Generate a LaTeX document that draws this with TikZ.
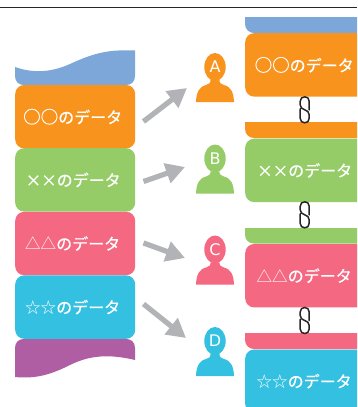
\documentclass[tikz,border=0pt]{standalone}
\usepackage{fontspec}
\setmainfont{Noto Sans CJK JP}
\newfontfamily\medfont[FakeBold=0.6]{Noto Sans CJK JP}
\newfontfamily\letterfont{DejaVu Sans}
\usetikzlibrary{arrows.meta}
\definecolor{cblue}{RGB}{126,167,217}
\definecolor{corange}{RGB}{248,148,29}
\definecolor{cgreen}{RGB}{150,204,104}
\definecolor{cpink}{RGB}{244,104,130}
\definecolor{ccyan}{RGB}{52,192,224}
\definecolor{cpurple}{RGB}{176,94,164}
\definecolor{carrow}{RGB}{177,179,182}
% #1 symbols (with their font), #2 shift
\newcommand{\blocktext}[2]{\raisebox{-1.5pt}{\hspace*{#2}#1{\medfont\fontsize{16}{16}\selectfont のデータ}}}
\newcommand{\symcircle}{{\medfont\fontsize{17.5}{18}\selectfont ○○}}
\newcommand{\symcross}{{\medfont\fontsize{15.5}{16}\selectfont ××}}
\newcommand{\symtri}{{\fontsize{15.5}{16}\selectfont △△}}
\newcommand{\symstar}{{\fontsize{15.5}{16}\selectfont ☆☆}}
\tikzset{
 x=1pt,y=-1pt,
 datablock/.style={fill=#1,rounded corners=9pt,draw=none,minimum width=120pt,minimum height=63.4pt,inner sep=0pt,text=white,anchor=north west},
 moveto/.style={draw=carrow,line width=5.2pt,-{Triangle[length=19pt,width=20pt,fill=carrow]}},
 clip link/.style={draw=black!85,line width=1.5pt,line cap=round},
 pname/.style={text=white,font=\letterfont\fontsize{16}{16}\selectfont,inner sep=0pt},
}
\newcommand{\person}[4]{% x, y(top of head), colour, letter
 \begin{scope}[shift={(#1,#2)}]
  \fill[#3] (-19,49) .. controls (-18.5,39) and (-16,34) .. (-9,32) .. controls (-6,31) and (-4.5,30.5) .. (-4.5,27) -- (4.5,27) .. controls (4.5,30.5) and (6,31) .. (9,32) .. controls (16,34) and (18.5,39) .. (19,49) -- cycle;
  \fill[#3] (0,14) ellipse [x radius=10.7pt,y radius=14pt];
  \node[pname] (p#4) at (0,14) {#4};
 \end{scope}}
\newcommand{\paperclip}[3]{% x,y,name
 \begin{scope}[shift={(#1,#2)}]
  \coordinate (#3) at (0,0);
  \draw[clip link] (4.5,13) -- (4.5,4.5) .. controls (4.5,1.5) and (2.5,0) .. (0,0) .. controls (-2.5,0) and (-4.5,1.5) .. (-4.5,4.5) -- (-4.5,8) .. controls (-4.5,11) and (-2.5,12) .. (0,13) .. controls (2.5,14) and (4.5,15) .. (4.5,18) -- (4.5,21.5) .. controls (4.5,24.5) and (2.5,26) .. (0,26) .. controls (-2.5,26) and (-4.5,24.5) .. (-4.5,21.5) -- (-4.5,12);
 \end{scope}}
\begin{document}
\begin{tikzpicture}
\useasboundingbox (0,0) rectangle (357,407);
\fill[white] (0,0) rectangle (357,407);
\coordinate (ruleL) at (0,7.3);
\coordinate (ruleR) at (357,7.3);
\draw[black!85,line width=0.8pt] (ruleL) -- (ruleR);
% left stack
\fill[cblue] (15,67) .. controls (32,73) and (50,73) .. (70,64) .. controls (90,55) and (105,49) .. (135,50.5) -- (135,76) .. controls (135,82) and (131,85) .. (126,85) -- (24,85) .. controls (19,85) and (15,82) .. (15,76) -- cycle;
\fill[cpurple] (15,377) .. controls (35,379) and (50,375) .. (70,365) .. controls (90,355) and (110,354) .. (135,360) -- (135,348) .. controls (135,342) and (131,339) .. (126,339) -- (24,339) .. controls (19,339) and (15,342) .. (15,348) -- cycle;
\node[datablock=corange] (l1) at (15,84.8) {\blocktext{\symcircle}{-5pt}};
\node[datablock=cgreen] (l2) at (15,148) {\blocktext{\symcross}{-4pt}};
\node[datablock=cpink] (l3) at (15,211.6) {\blocktext{\symtri}{-5pt}};
\node[datablock=ccyan] (l4) at (15,275.2) {\blocktext{\symstar}{-5pt}};
% right stack
\begin{scope}
\clip (0,0) rectangle (357,407);
\fill[cblue] (245,17) -- (370,17) -- (370,33) -- (254,33) .. controls (249,33) and (245,29) .. (245,24) -- cycle;
\fill[corange] (245,122) -- (370,122) -- (370,138) -- (254,138) .. controls (249,138) and (245,134) .. (245,129) -- cycle;
\fill[cgreen] (245,228) -- (370,228) -- (370,243.5) -- (254,243.5) .. controls (249,243.5) and (245,240) .. (245,235) -- cycle;
\fill[cpink] (245,333) -- (370,333) -- (370,349) -- (254,349) .. controls (249,349) and (245,345) .. (245,340) -- cycle;
\node[datablock=corange,minimum width=130pt] (r1) at (245,33) {\blocktext{\symcircle}{-12pt}};
\node[datablock=cgreen,minimum width=130pt] (r2) at (245,138.5) {\blocktext{\symcross}{-11pt}};
\node[datablock=cpink,minimum width=130pt] (r3) at (245,243.8) {\blocktext{\symtri}{-12pt}};
\node[datablock=ccyan,minimum width=130pt] (r4) at (245,349.3) {\blocktext{\symstar}{-12pt}};
\end{scope}
\paperclip{304.7}{96.8}{c1}
\paperclip{304.7}{201.8}{c2}
\paperclip{304.7}{307.5}{c3}
% people
\person{215}{53}{corange}{A}
\person{215}{144.5}{cgreen}{B}
\person{215}{235.5}{cpink}{C}
\person{215}{327}{ccyan}{D}
% arrows
\coordinate (a1) at (143.5,121.5); \coordinate (b1) at (187,88);
\coordinate (a2) at (143.5,181.5); \coordinate (b2) at (185,167);
\coordinate (a3) at (143.5,243); \coordinate (b3) at (185,258);
\coordinate (a4) at (143.5,304); \coordinate (b4) at (186,338);
\draw[moveto] (a1) -- (b1);
\draw[moveto] (a2) -- (b2);
\draw[moveto] (a3) -- (b3);
\draw[moveto] (a4) -- (b4);
\end{tikzpicture}
\end{document}
